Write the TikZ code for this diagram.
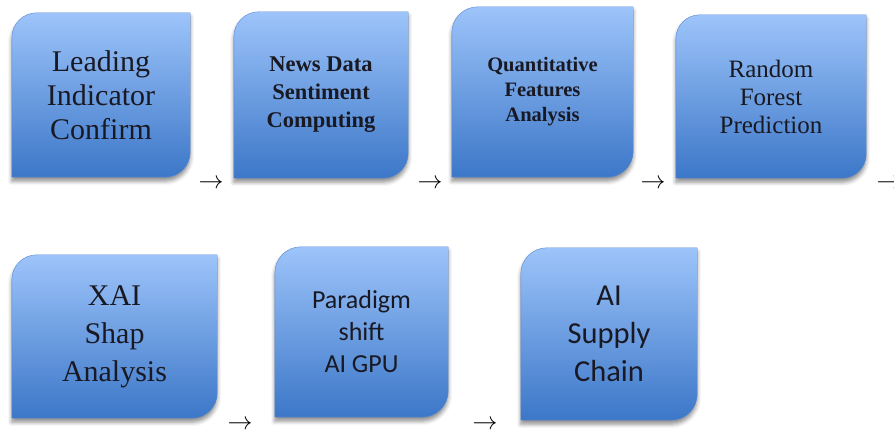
\documentclass[tikz,border=0pt]{standalone}
\usepackage{fontspec}
\setmainfont{Liberation Serif}
\newfontfamily\calibrifont{Carlito}
\usetikzlibrary{shadows.blur,backgrounds}
\definecolor{leaftop}{RGB}{157,196,250}
\definecolor{leafbottom}{RGB}{60,119,200}
\definecolor{leafedge}{RGB}{88,136,208}
\definecolor{leaftext}{RGB}{25,25,35}
\tikzset{
  leafnode/.style={inner sep=0pt, align=center, text=leaftext},
  leafshape/.style={top color=leaftop, bottom color=leafbottom, draw=leafedge, line width=0.4pt,
    blur shadow={shadow xshift=0pt, shadow yshift=-4pt, shadow blur radius=4pt, shadow opacity=45}},
  flowarrow/.style={inner sep=0pt, font=\fontsize{24}{24}\selectfont}
}
\begin{document}
\begin{tikzpicture}[x=1pt, y=1pt]
	    \useasboundingbox (0,0) rectangle (894,430);
	    % first row
	    \node[leafnode, minimum width=178pt, minimum height=164pt, font=\fontsize{30}{34}\selectfont] (lead) at (101,335) {Leading\\Indicator\\Confirm};
	    \node[leafnode, minimum width=174pt, minimum height=166pt, font=\fontsize{22.5}{28}\selectfont\bfseries] (news) at (321,335) {News Data\\Sentiment\\Computing};
	    \node[leafnode, minimum width=181pt, minimum height=170pt, font=\fontsize{20.5}{25}\selectfont\bfseries] (quant) at (542.5,338) {Quantitative\\Features\\Analysis};
	    \node[leafnode, minimum width=190pt, minimum height=163pt, font=\fontsize{25}{28}\selectfont] (forest) at (771,333.5) {Random\\Forest\\Prediction};
	    % second row
	    \node[leafnode, minimum width=205pt, minimum height=163pt, font=\fontsize{30}{38}\selectfont] (xai) at (114.5,93.5) {XAI\\Shap\\Analysis};
	    \node[leafnode, minimum width=173pt, minimum height=170pt, font=\fontsize{26}{32}\selectfont\calibrifont] (gpu) at (361.5,98) {Paradigm\\shift\\AI GPU};
	    \node[leafnode, minimum width=176pt, minimum height=172pt, font=\fontsize{30.5}{38}\selectfont\calibrifont] (chain) at (609,96) {AI\\Supply\\Chain};
	    % small arrows
	    \node[flowarrow] (a1) at (211,246) {$\rightarrow$};
	    \node[flowarrow] (a2) at (430,246) {$\rightarrow$};
	    \node[flowarrow] (a3) at (653,246) {$\rightarrow$};
	    \node[flowarrow] (a4) at (889,246) {$\rightarrow$};
	    \node[flowarrow] (a5) at (240,5) {$\rightarrow$};
	    \node[flowarrow] (a6) at (485,5) {$\rightarrow$};
	    \begin{scope}[on background layer]
	    \foreach \n/\r in {lead/25,news/25,quant/26,forest/24,xai/25,gpu/26,chain/26}
	        \path[leafshape] (\n.south west) -- ([yshift=-\r pt]\n.north west) arc (180:90:\r pt)
	            -- (\n.north east) -- ([yshift=\r pt]\n.south east) arc (0:-90:\r pt) -- cycle;
	    \end{scope}
	\end{tikzpicture}
\end{document}
